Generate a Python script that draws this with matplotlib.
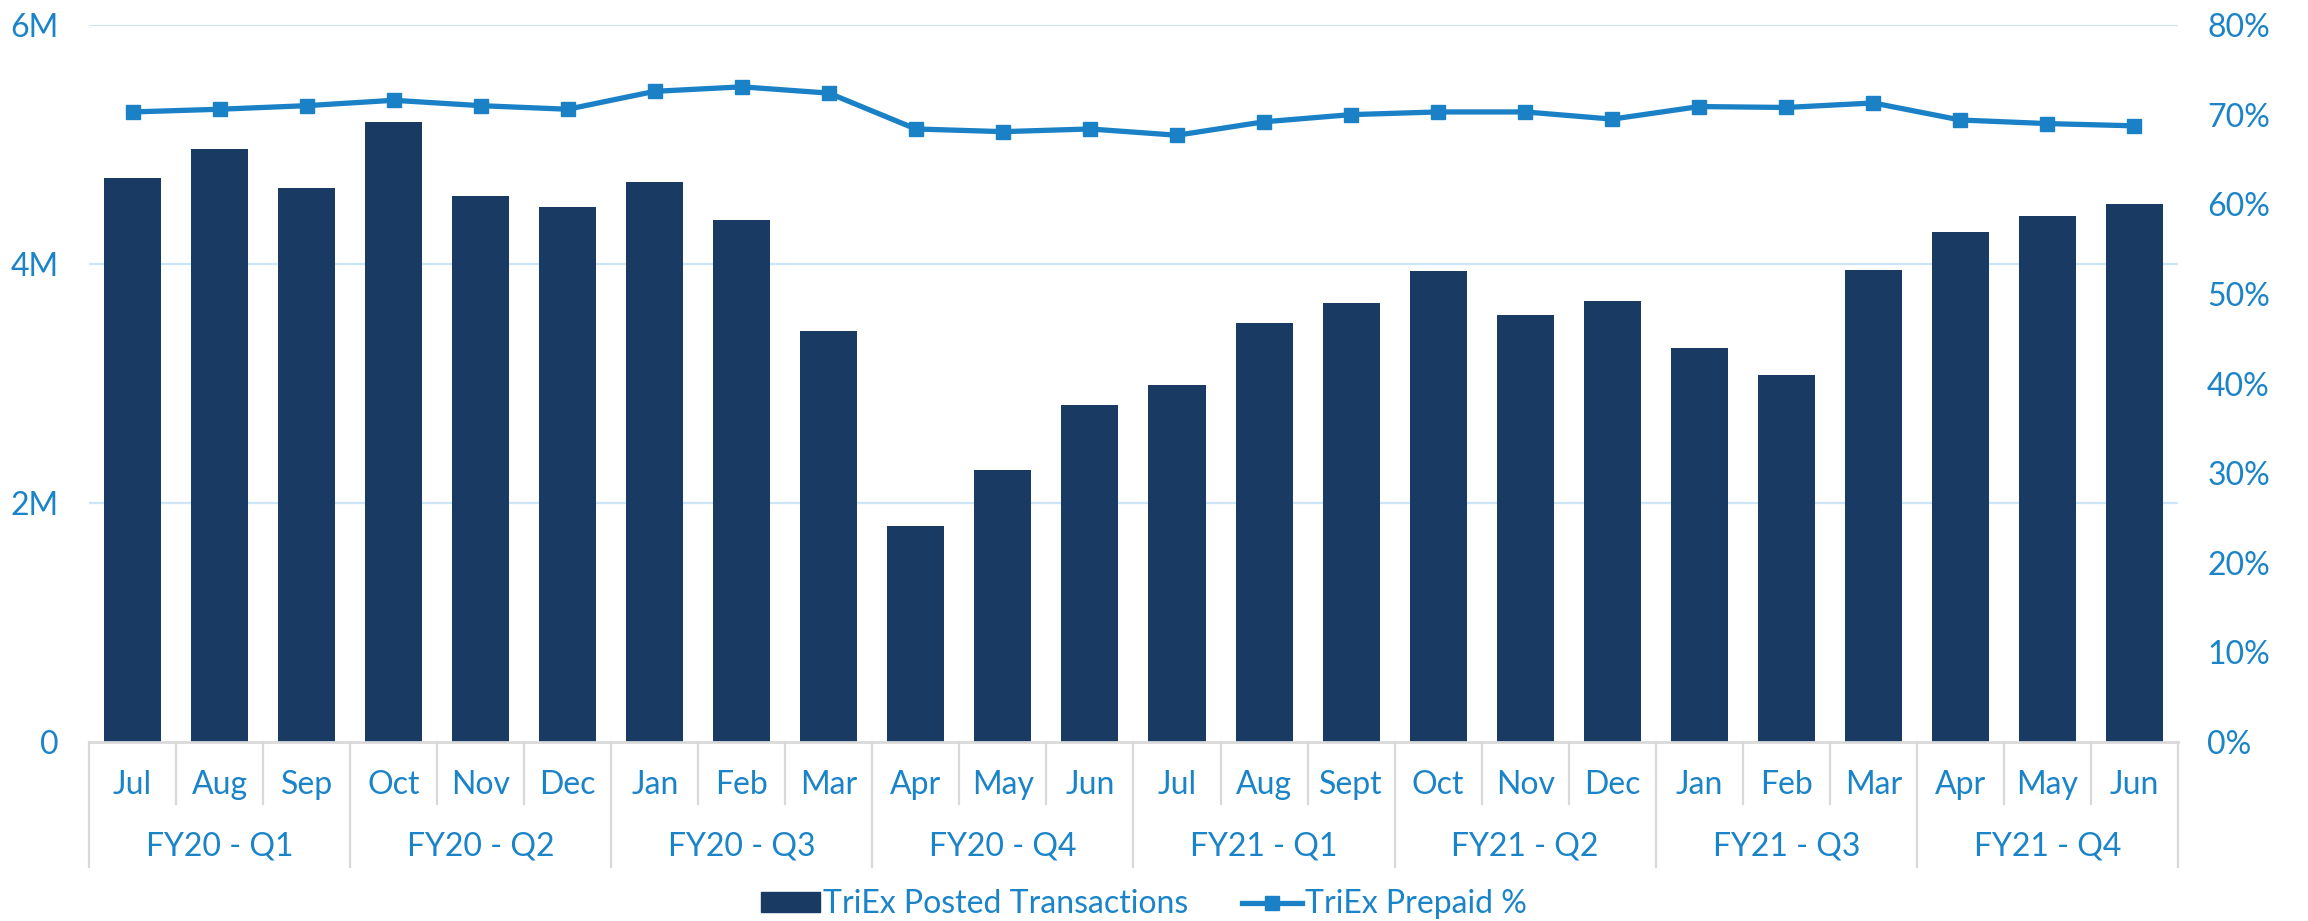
import matplotlib
matplotlib.use("Agg")
import matplotlib.pyplot as plt
from matplotlib.patches import Patch
from matplotlib.lines import Line2D
import numpy as np

plt.rcParams['font.family'] = ['Lato', 'DejaVu Sans']

# du lieu
thang = ['Jul', 'Aug', 'Sep', 'Oct', 'Nov', 'Dec', 'Jan', 'Feb', 'Mar', 'Apr', 'May', 'Jun',
         'Jul', 'Aug', 'Sept', 'Oct', 'Nov', 'Dec', 'Jan', 'Feb', 'Mar', 'Apr', 'May', 'Jun']
quy = ['FY20 - Q1', 'FY20 - Q2', 'FY20 - Q3', 'FY20 - Q4',
       'FY21 - Q1', 'FY21 - Q2', 'FY21 - Q3', 'FY21 - Q4']
giao_dich = [4.72, 4.96, 4.64, 5.19, 4.57, 4.48, 4.69, 4.37, 3.44, 1.81, 2.28, 2.82,
             2.99, 3.51, 3.67, 3.94, 3.57, 3.69, 3.30, 3.07, 3.95, 4.27, 4.40, 4.50]  # trieu
tra_truoc = [70.3, 70.6, 71.0, 71.6, 71.0, 70.6, 72.6, 73.1, 72.4, 68.4, 68.1, 68.4,
             67.7, 69.2, 70.0, 70.3, 70.3, 69.5, 70.9, 70.8, 71.3, 69.4, 69.0, 68.75]  # %

mau_cot = '#193A63'
mau_duong = '#1B81C7'
mau_chu = '#1B84C8'
mau_luoi = '#CCE6F8'
mau_xam = '#D9D9D9'
co_chu = 23

fig = plt.figure(figsize=(23.08, 9.21), dpi=100)
ax = fig.add_axes([0.03856, 0.19435, 0.9051, 0.7785])
ax2 = ax.twinx()

x = np.arange(len(thang))
ax.bar(x, np.array(giao_dich) * 1e6, width=0.655, color=mau_cot, zorder=3)
ax2.plot(x, tra_truoc, color=mau_duong, lw=3.8, marker='s', markersize=10.5, zorder=4)

ax.set_xlim(-0.5, len(thang) - 0.5)
ax.set_ylim(0, 6e6)
ax2.set_ylim(0, 80)
ax.set_yticks([0, 2e6, 4e6, 6e6])
ax.set_yticklabels(['0', '2M', '4M', '6M'])
ax2.set_yticks(np.arange(0, 81, 10))
ax2.set_yticklabels(['%d%%' % v for v in range(0, 81, 10)])
ax.tick_params(axis='y', length=0, pad=22, labelsize=co_chu, labelcolor=mau_chu)
ax2.tick_params(axis='y', length=0, pad=21, labelsize=co_chu, labelcolor=mau_chu)
ax.set_xticks([])

for s in ['top', 'left', 'right']:
    ax.spines[s].set_visible(False)
    ax2.spines[s].set_visible(False)
ax2.spines['bottom'].set_visible(False)
ax.spines['bottom'].set_color(mau_xam)
ax.spines['bottom'].set_linewidth(2)
ax.spines['bottom'].set_zorder(5)

for g in [2e6, 4e6, 6e6]:
    ax.axhline(g, color=mau_luoi, lw=1.6, zorder=1)

# nhan truc x 2 tang
tr = ax.get_xaxis_transform()
for i in range(len(thang) + 1):
    y_duoi = -0.174 if i % 3 == 0 else -0.0865
    ax.plot([i - 0.5, i - 0.5], [0, y_duoi], color=mau_xam, lw=1.6, transform=tr, clip_on=False)
for i, t in enumerate(thang):
    ax.text(i, -0.060, t, transform=tr, ha='center', va='center', fontsize=co_chu, color=mau_chu)
for j, q in enumerate(quy):
    ax.text(3 * j + 1, -0.146, q, transform=tr, ha='center', va='center', fontsize=co_chu, color=mau_chu)

handles = [Patch(facecolor=mau_cot, edgecolor=mau_cot),
           Line2D([0], [0], color=mau_duong, lw=3.8, marker='s', markersize=10.5)]
fig.legend(handles, ['TriEx Posted Transactions', 'TriEx Prepaid %'], loc='center',
           bbox_to_anchor=(0.4955, 0.018), ncol=2, frameon=False, fontsize=co_chu,
           labelcolor=mau_chu, handlelength=1.85, handletextpad=0.1, columnspacing=1.7,
           handleheight=0.6)

fig.savefig('out.png', dpi=100)
